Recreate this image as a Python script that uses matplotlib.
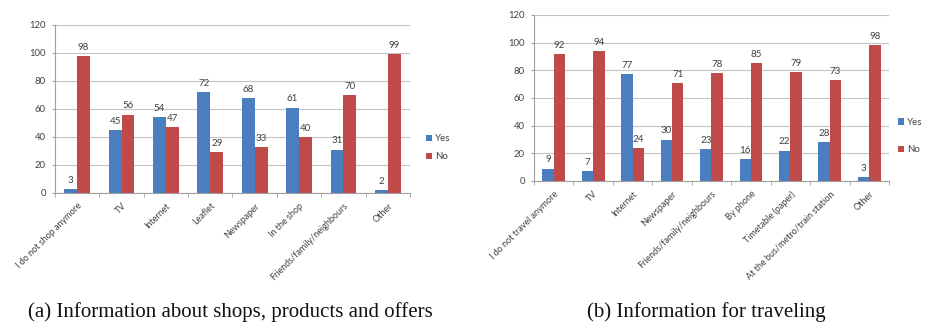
import numpy as np
import matplotlib
matplotlib.use("Agg")
import matplotlib.pyplot as plt

# Survey answers: information sources (percent of respondents)
shop_categories = ["I do not shop anymore", "TV", "Internet", "Leaflet", "Newspaper",
                   "In the shop", "Friends/family/neighbours", "Other"]
shop_yes = [3, 45, 54, 72, 68, 61, 31, 2]
shop_no = [98, 56, 47, 29, 33, 40, 70, 99]

travel_categories = ["I do not travel anymore", "TV", "Internet", "Newspaper",
                     "Friends/family/neighbours", "By phone", "Timetable (paper)",
                     "At the bus/metro/train station", "Other"]
travel_yes = [9, 7, 77, 30, 23, 16, 22, 28, 3]
travel_no = [92, 94, 24, 71, 78, 85, 79, 73, 98]

series_labels = ["Yes", "No"]
y_ticks = [0, 20, 40, 60, 80, 100, 120]

captions = ["(a) Information about shops, products and offers",
            "(b) Information for traveling"]

BLUE = "#4a7ebf"
RED = "#bf4a4a"
TEXT = "#404040"
GRID = "#c4c4c4"
AXIS = "#a0a0a0"

plt.rcParams["font.family"] = ["Lato", "DejaVu Sans"]

W, H = 928, 323
fig = plt.figure(figsize=(W / 100, H / 100), dpi=100)
fig.patch.set_facecolor("white")


def px_axes(x0, x1, ytop, ybot):
    return fig.add_axes([x0 / W, (H - ybot) / H, (x1 - x0) / W, (ybot - ytop) / H])


def draw_panel(ax, cats, yes, no, legend_anchor, label_spacing):
    n = len(cats)
    x = np.arange(n)
    w = 0.29
    b1 = ax.bar(x - w / 2, yes, w, color=BLUE, label=series_labels[0], zorder=3)
    b2 = ax.bar(x + w / 2, no, w, color=RED, label=series_labels[1], zorder=3)
    for bars, vals in ((b1, yes), (b2, no)):
        for rect, v in zip(bars, vals):
            ax.annotate(str(v), (rect.get_x() + rect.get_width() / 2, v),
                        xytext=(0, 3), textcoords="offset points",
                        ha="center", va="bottom", fontsize=7, color=TEXT)
    ax.set_xlim(-0.5, n - 0.5)
    ax.set_ylim(0, 120)
    ax.set_yticks(y_ticks)
    ax.tick_params(axis="y", labelsize=6.8, labelcolor=TEXT, length=2.5,
                   color=AXIS, pad=4)
    ax.set_xticks(x)
    ax.set_xticklabels(cats, rotation=45, ha="right", rotation_mode="anchor",
                       fontsize=6.5, color=TEXT)
    ax.tick_params(axis="x", length=0, pad=6)
    ax.set_xticks(np.arange(n + 1) - 0.5, minor=True)
    ax.tick_params(axis="x", which="minor", length=3, color=AXIS)
    ax.grid(axis="y", color=GRID, linewidth=0.8, zorder=0)
    for side in ("top", "right"):
        ax.spines[side].set_visible(False)
    for side in ("left", "bottom"):
        ax.spines[side].set_color(AXIS)
        ax.spines[side].set_linewidth(0.8)
    ax.legend(loc="center left", bbox_to_anchor=legend_anchor, frameon=False,
              fontsize=7, handlelength=0.6, handleheight=0.6, handletextpad=0.3,
              labelspacing=label_spacing, labelcolor=TEXT, borderaxespad=0.2)


ax1 = px_axes(55, 410, 25, 193)
draw_panel(ax1, shop_categories, shop_yes, shop_no, (1.03, 0.27), 0.9)

ax2 = px_axes(534, 889, 15, 181)
draw_panel(ax2, travel_categories, travel_yes, travel_no, (1.01, 0.27), 1.9)

fig.text(230 / W, 1 - 312 / H, captions[0], ha="center", va="center",
         fontsize=15, family="Liberation Serif", color="#111111")
fig.text(706 / W, 1 - 312 / H, captions[1], ha="center", va="center",
         fontsize=15, family="Liberation Serif", color="#111111")

fig.savefig("out.png", dpi=100, facecolor="white")
